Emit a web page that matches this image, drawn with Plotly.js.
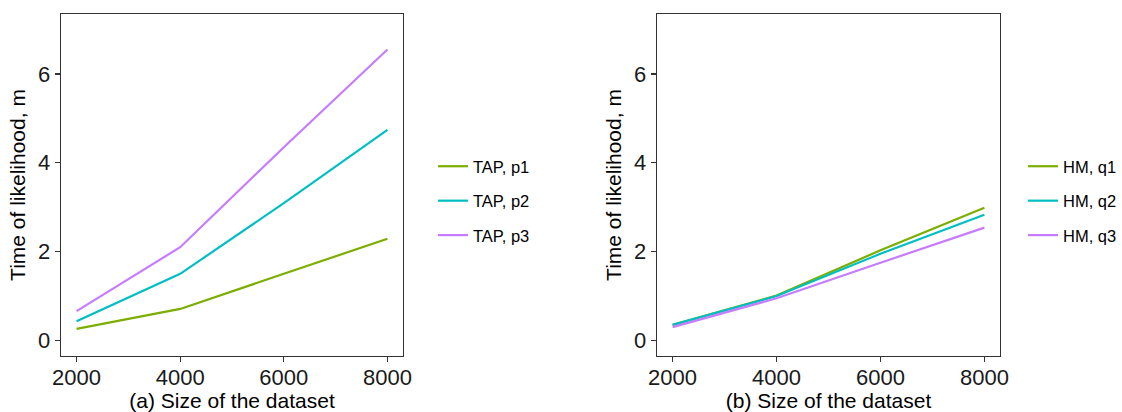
<!DOCTYPE html>
<html>
<head>
<meta charset="utf-8">
<script src="https://cdn.plot.ly/plotly-3.0.1.min.js"></script>
<style>html,body{margin:0;padding:0;background:#fff}#chart{width:1122px;height:412px}</style>
</head>
<body>
<div id="chart"></div>
<script>
const sizes = [2000, 4000, 6000, 8000];
const tapP1 = [0.26, 0.71, 1.50, 2.29];
const tapP2 = [0.43, 1.50, 3.09, 4.74];
const tapP3 = [0.66, 2.10, 4.35, 6.55];
const hmQ1 = [0.35, 1.01, 2.03, 2.99];
const hmQ2 = [0.35, 1.00, 1.95, 2.83];
const hmQ3 = [0.30, 0.95, 1.75, 2.54];
const xTicks = [2000, 4000, 6000, 8000];
const yTicks = [0, 2, 4, 6];

const colors = ['#7CAE00', '#00BFC4', '#C77CFF'];
const font = 'Liberation Sans, Arial, Helvetica, sans-serif';

function tr(y, name, i, xa, ya, leg) {
  return {x: sizes, y: y, name: name, type: 'scatter', mode: 'lines',
    line: {color: colors[i], width: 2.2}, xaxis: xa, yaxis: ya,
    legend: leg, legendgroup: leg + i};
}
const data = [
  tr(tapP1, 'TAP, p1', 0, 'x', 'y', 'legend'),
  tr(tapP2, 'TAP, p2', 1, 'x', 'y', 'legend'),
  tr(tapP3, 'TAP, p3', 2, 'x', 'y', 'legend'),
  tr(hmQ1, 'HM, q1', 0, 'x2', 'y2', 'legend2'),
  tr(hmQ2, 'HM, q2', 1, 'x2', 'y2', 'legend2'),
  tr(hmQ3, 'HM, q3', 2, 'x2', 'y2', 'legend2')
];

function xax(dom, title) {
  return {domain: dom, range: [1700, 8300], tickvals: xTicks, ticktext: xTicks.map(String),
    showgrid: false, zeroline: false, showline: true, mirror: true, linecolor: '#333', linewidth: 1.3,
    ticks: 'outside', ticklen: 5, tickcolor: '#333', tickwidth: 1.1, ticklabelstandoff: -4,
    tickfont: {size: 22, color: '#1a1a1a', family: font},
    title: {text: title, font: {size: 21, color: '#000', family: font}, standoff: 4}};
}
function yax(dom) {
  return {domain: dom, range: [-0.35, 7.35], tickvals: yTicks, ticktext: yTicks.map(String),
    showgrid: false, zeroline: false, showline: true, mirror: true, linecolor: '#333', linewidth: 1.3,
    ticks: 'outside', ticklen: 5, tickcolor: '#333', tickwidth: 1.1,
    tickfont: {size: 22, color: '#1a1a1a', family: font},
    title: {text: 'Time of likelihood, m', font: {size: 21, color: '#000', family: font}, standoff: 6}};
}
const ydom = [56/412, 398/412];
const yA = yax(ydom);
const yB = yax(ydom); yB.anchor = 'x2';
const xA = xax([61/1122, 403/1122], '(a) Size of the dataset');
const xB = xax([657/1122, 1000/1122], '(b) Size of the dataset'); xB.anchor = 'y2';

const legBase = {font: {size: 16.5, family: font, color: '#000'}, bgcolor: 'rgba(0,0,0,0)',
  xanchor: 'left', yanchor: 'middle', y: (412-201)/412, tracegroupgap: 10, itemwidth: 30};

const layout = {
  width: 1122, height: 412,
  margin: {l: 0, r: 0, t: 0, b: 0},
  paper_bgcolor: '#fff', plot_bgcolor: '#fff',
  showlegend: true,
  xaxis: xA, yaxis: yA, xaxis2: xB, yaxis2: yB,
  legend: Object.assign({}, legBase, {x: 433/1122}),
  legend2: Object.assign({}, legBase, {x: 1, xanchor: 'right'})
};
Plotly.newPlot('chart', data, layout, {displayModeBar: false, staticPlot: true});
</script>
</body>
</html>
